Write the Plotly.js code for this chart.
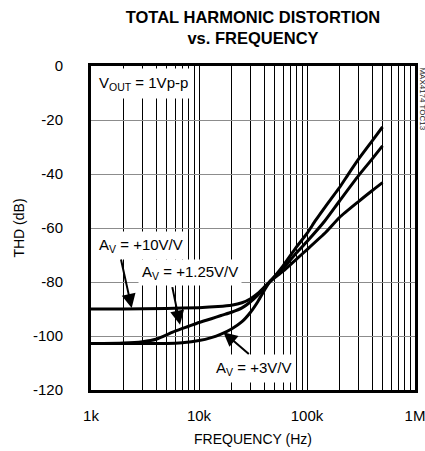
<!DOCTYPE html>
<html><head><meta charset="utf-8">
<script src="https://cdn.plot.ly/plotly-3.0.1.min.js"></script>
<style>body{margin:0;background:#fff;}</style>
</head><body>
<div id="chart" style="width:425px;height:451px;"></div>
<script>
// Frequency (Hz) and THD (dB)
const freqAv10 = [1000, 2000, 5000, 10000, 15000, 20000, 25000, 30000, 35000, 40000, 45000, 60000, 80000, 100000, 120000, 160000, 200000, 240000, 300000, 400000, 500000];
const thdAv10  = [-90.0, -90.0, -89.8, -89.5, -89.1, -88.6, -87.7, -86.2, -84.2, -82.0, -80.0, -74.0, -67.0, -62.0, -57.2, -50.2, -45.0, -40.2, -34.5, -27.8, -22.6];

const freqAv3 = [1000, 3000, 5000, 7000, 10000, 13000, 16000, 20000, 25000, 30000, 35000, 40000, 45000, 60000, 80000, 100000, 146000, 200000, 300000, 400000, 500000];
const thdAv3  = [-102.8, -102.8, -102.8, -102.5, -101.7, -100.6, -99.3, -97.4, -94.7, -91.2, -87.3, -83.3, -80.0, -75.0, -69.2, -65.0, -57.4, -50.0, -40.6, -34.5, -29.6];

const freqAv125 = [1000, 2000, 3000, 4000, 6000, 8000, 10000, 13000, 16000, 20000, 25000, 30000, 35000, 40000, 45000, 60000, 80000, 100000, 150000, 200000, 300000, 400000, 500000];
const thdAv125  = [-102.8, -102.6, -102.1, -101.2, -98.2, -96.4, -95.0, -93.6, -92.4, -91.2, -89.6, -87.3, -84.9, -82.3, -80.0, -76.0, -71.5, -68.0, -61.5, -56.1, -50.2, -46.2, -43.2];

const decadeLabels = {1000: '1k', 10000: '10k', 100000: '100k', 1000000: '1M'};
const xTickVals = [];
for (const d of [1000, 10000, 100000]) { for (let m = 1; m <= 9; m++) xTickVals.push(d * m); }
xTickVals.push(1000000);
const xTickText = xTickVals.map(v => decadeLabels[v] || '');

const yTickVals = [0, -20, -40, -60, -80, -100, -120];
const yTickText = ['0', '-20', '-40', '-60', '-80', '-100', '-120'];

const FONT = 'Liberation Sans, Arial, Helvetica, sans-serif';
const lineStyle = {color: '#000', width: 3, shape: 'spline', smoothing: 0.6};

const traces = [
  {x: freqAv10, y: thdAv10, mode: 'lines', line: lineStyle, name: 'AV=+10V/V'},
  {x: freqAv3, y: thdAv3, mode: 'lines', line: lineStyle, name: 'AV=+3V/V'},
  {x: freqAv125, y: thdAv125, mode: 'lines', line: lineStyle, name: 'AV=+1.25V/V'}
];

const L = Math.log10;
const labelBox = {showarrow: false, bgcolor: '#fff', font: {family: FONT, size: 15, color: '#000'}, xref: 'x', yref: 'y'};
const arrowOnly = {text: '', showarrow: true, arrowhead: 2, arrowsize: 1.4, arrowwidth: 2, arrowcolor: '#000', xref: 'x', yref: 'y'};

const annotations = [
  Object.assign({}, labelBox, {text: 'V<sub>OUT</sub> = 1Vp-p', x: L(3030), y: -6.3, borderpad: 5}),
  Object.assign({}, labelBox, {text: 'A<sub>V</sub> = +10V/V', x: L(2900), y: -66.3, borderpad: 4}),
  Object.assign({}, labelBox, {text: 'A<sub>V</sub> = +1.25V/V', x: L(8260), y: -76.3, borderpad: 3}),
  Object.assign({}, labelBox, {text: 'A<sub>V</sub> = +3V/V', x: L(32300), y: -112.2, borderpad: 4}),
  Object.assign({}, arrowOnly, {x: L(2380), y: -89.6, ax: -11, ay: -50}),
  Object.assign({}, arrowOnly, {x: L(6670), y: -95.8, ax: -8, ay: -39}),
  Object.assign({}, arrowOnly, {x: L(16800), y: -98.6, ax: 27, ay: 23}),
  {text: 'MAX4174 TOC13', xref: 'paper', yref: 'paper', x: 1.005, y: 1.0, xanchor: 'left', yanchor: 'top',
   showarrow: false, textangle: 90, borderpad: 0, font: {family: FONT, size: 8, color: '#222'}}
];

const layout = {
  width: 425, height: 451,
  margin: {l: 91, r: 10, t: 66, b: 61},
  paper_bgcolor: '#fff', plot_bgcolor: '#fff',
  showlegend: false,
  font: {family: FONT, color: '#000', size: 15},
  title: {text: '<b>TOTAL HARMONIC DISTORTION<br>vs. FREQUENCY</b>', x: 0.5, xref: 'paper', xanchor: 'center',
          y: 0.95, yref: 'container', yanchor: 'middle',
          font: {family: 'Liberation Sans Narrow, Liberation Sans, Arial, sans-serif', size: 16.5, color: '#000'}},
  xaxis: {type: 'log', range: [3, 6], tickvals: xTickVals, ticktext: xTickText, tickmode: 'array',
          showgrid: true, gridcolor: '#000', gridwidth: 1, ticks: '', ticklabelstandoff: 10,
          ticklabeloverflow: 'allow',
          showline: true, linecolor: '#000', linewidth: 3, mirror: true, zeroline: false,
          tickfont: {family: FONT, size: 15},
          title: {text: 'FREQUENCY (Hz)', font: {family: FONT, size: 14}, standoff: 12}},
  yaxis: {range: [-120, 0], tickvals: yTickVals, ticktext: yTickText, tickmode: 'array',
          showgrid: true, gridcolor: '#8c8c8c', gridwidth: 1, ticks: '', ticklabelstandoff: 22,
          showline: true, linecolor: '#000', linewidth: 3, mirror: true, zeroline: false,
          tickfont: {family: FONT, size: 15},
          title: {text: 'THD (dB)', font: {family: FONT, size: 14}, standoff: 6}},
  annotations: annotations
};

Plotly.newPlot('chart', traces, layout, {displayModeBar: false, staticPlot: true});
</script>
</body></html>
